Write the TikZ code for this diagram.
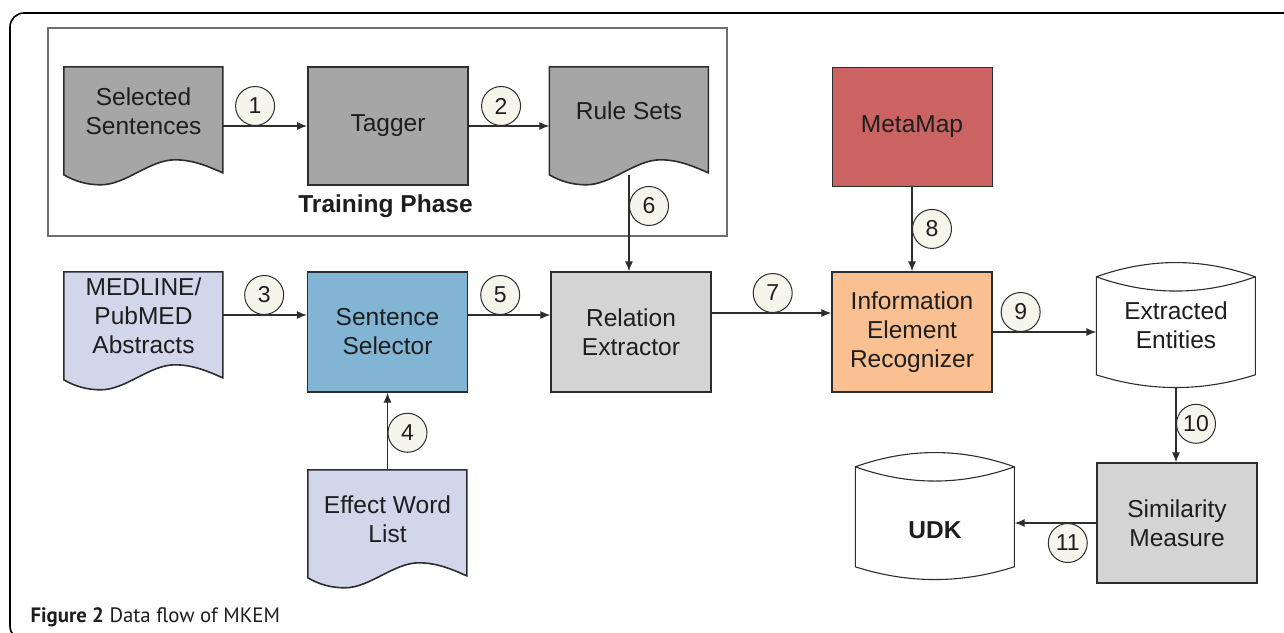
\documentclass[tikz,border=0pt]{standalone}
\usepackage{fontspec}
\setmainfont{Liberation Sans}
\newfontfamily\capfont{PT Sans}
\usetikzlibrary{arrows.meta, backgrounds}

\definecolor{linec}{RGB}{45,45,45}
\definecolor{textc}{RGB}{30,30,30}
\definecolor{groupc}{RGB}{110,110,110}
\definecolor{docgray}{RGB}{166,166,166}
\definecolor{lavender}{RGB}{210,214,234}
\definecolor{selblue}{RGB}{130,180,212}
\definecolor{relgray}{RGB}{212,212,212}
\definecolor{metared}{RGB}{204,99,99}
\definecolor{ierorange}{RGB}{250,192,145}
\definecolor{numfill}{RGB}{246,245,236}

\begin{document}
\begin{tikzpicture}[x=1pt, y=-1pt,
    every node/.style={font=\fontsize{24.5}{29}\selectfont, align=center, text=textc},
    box/.style={draw=linec, line width=1.3pt, minimum width=160pt, minimum height=120pt, inner sep=0pt},
    doc/.style={minimum width=159pt, minimum height=108pt, inner sep=0pt, text depth=20pt},
    db/.style={minimum width=159pt, minimum height=125pt, inner sep=0pt},
    num/.style={circle, draw=linec, fill=numfill, line width=1pt, minimum size=39pt, inner sep=0pt, font=\fontsize{23}{23}\selectfont},
    arrow/.style={-{Latex[length=10pt,width=8pt]}, line width=1.2pt, draw=linec}
]
\useasboundingbox (0,0) rectangle (1284,632);

% Training group
\node[draw=groupc, line width=1.5pt, minimum width=679pt, minimum height=208pt] (training) at (387.5,132) {};
\node[font=\fontsize{24.5}{29}\selectfont\bfseries] (phase) at (385.5,206) {Training Phase};

% Nodes
\node[doc] (selsent) at (143.5,121) {Selected\\Sentences};
\node[box, fill=docgray, line width=1.8pt, minimum height=118pt] (tagger) at (388,126) {Tagger};
\node[doc] (rules) at (629,121) {Rule Sets};
\node[box, fill=metared, line width=1pt, minimum height=119pt] (metamap) at (912,126.5) {MetaMap};

\node[doc] (medline) at (143.5,326) {MEDLINE/\\PubMED\\Abstracts};
\node[box, fill=selblue] (selector) at (387.5,332) {Sentence\\Selector};
\node[box, fill=relgray] (relext) at (631,332) {Relation\\Extractor};
\node[box, fill=ierorange] (ier) at (912,332) {Information\\Element\\Recognizer};
\node[db] (entities) at (1176,325.5) {Extracted\\Entities};

\node[doc, text depth=9pt] (effect) at (387.5,524) {Effect Word\\List};
\node[box, fill=relgray] (simil) at (1177,523) {Similarity\\Measure};
\node[db, minimum height=127pt, text height=44.5pt, text depth=0pt, font=\fontsize{24.5}{29}\selectfont\bfseries] (udk) at (935,516.5) {UDK};

\node[anchor=base west, font=\capfont\fontsize{20.8}{24}\selectfont] (caption) at (27,622) {\textbf{Figure 2} Data flow of MKEM};

% Shapes behind the text
\begin{scope}[on background layer]
  \clip (0,0) rectangle (1284,632);
  \draw[black, line width=1.6pt, rounded corners=14pt] (10,13) rectangle (1310,640);
  \foreach \n/\c in {selsent/docgray, rules/docgray, medline/lavender, effect/lavender}
    \draw[shift={(\n.north west)}, fill=\c, draw=linec, line width=1.6pt]
      (0,0) -- (159,0) -- (159,106) .. controls (145,100) and (130,93) .. (111,93)
      .. controls (86,93) and (62,118) .. (37,118) .. controls (24,118) and (12,115) .. (0,108) -- cycle;
  \foreach \n/\h in {entities/125, udk/127}
    \draw[shift={(\n.north west)}, fill=white, draw=linec, line width=1.1pt]
      (0,14) .. controls (53,-5) and (106,-5) .. (159,14) -- (159,\h-13)
      .. controls (106,\h+4) and (53,\h+4) .. (0,\h-13) -- cycle
      (0,14) .. controls (53,33) and (106,33) .. (159,14);
\end{scope}

% Arrows
\coordinate (in3) at ([yshift=17pt]selector.west);
\coordinate (in5) at ([yshift=17pt]relext.west);
\coordinate (in7) at ([yshift=19pt]ier.west);

\draw[arrow] (selsent.east |- tagger.west) -- node[num, pos=.38, anchor=south] {1} (tagger.west);
\draw[arrow] (tagger.east) -- node[num, pos=.40, anchor=south] {2} (tagger.east -| rules.west);
\draw[arrow] (medline.east |- in3) -- node[num, pos=.49, anchor=south] {3} (in3);
\draw[arrow] (effect) -- node[num, pos=.48, anchor=west] {4} (selector);
\draw[arrow] (selector.east |- in5) -- node[num, pos=.39, anchor=south] {5} (in5);
\draw[arrow] (rules.south) -- node[num, pos=.32, anchor=west] {6} (rules.south |- relext.north);
\draw[arrow] (relext.east |- in7) -- node[num, pos=.51, anchor=south] {7} (in7);
\draw[arrow] (metamap) -- node[num, pos=.5, anchor=west] {8} (ier);
\draw[arrow] (ier.east) -- node[num, pos=.27, anchor=south] {9} (ier.east -| entities.west);
\draw[arrow] (entities.south) -- node[num, pos=.48, anchor=west] {10} (entities.south |- simil.north);
\draw[arrow] (simil.west) -- node[num, pos=.35, anchor=north] {11} (simil.west -| udk.east);

\end{tikzpicture}
\end{document}
